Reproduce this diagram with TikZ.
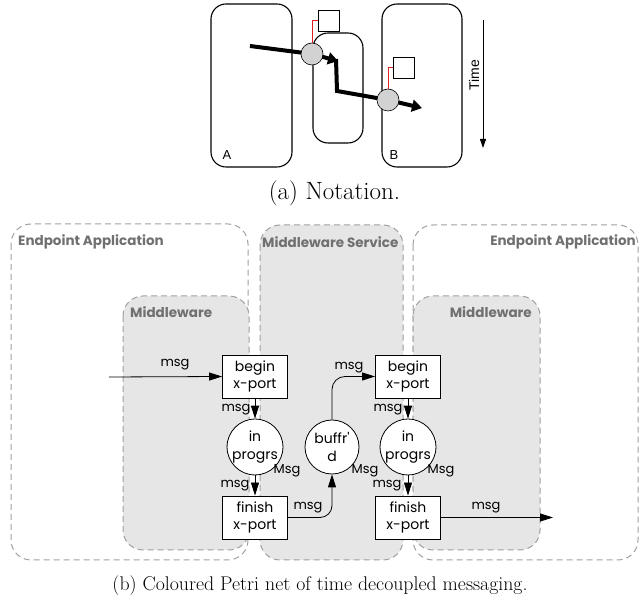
\documentclass[tikz,border=0pt]{standalone}
\usepackage{fontspec}
\newfontfamily\geofont{Poppins}
\newfontfamily\arialfont{Liberation Sans}
\usetikzlibrary{arrows.meta}
\definecolor{regionfill}{HTML}{E6E6E6}
\definecolor{regionline}{HTML}{A0A0A0}
\definecolor{regiontext}{HTML}{707070}
\definecolor{tokengray}{HTML}{D2D2D2}
\definecolor{linkred}{HTML}{E02020}
\tikzset{
  region/.style={draw=regionline, line width=1pt, dash pattern=on 6pt off 4pt, rounded corners=20pt},
  shaded/.style={region, fill=regionfill},
  regionlabel/.style={font=\geofont\bfseries\fontsize{13.5}{15}\selectfont, text=regiontext, inner sep=0pt},
  transition/.style={draw=black, fill=white, line width=0.8pt, minimum width=65pt, minimum height=43pt, inner sep=0pt, align=center, font=\geofont\fontsize{14}{17.5}\selectfont},
  place/.style={draw=black, fill=white, line width=0.8pt, circle, minimum size=54pt, inner sep=0pt, align=center, font=\geofont\fontsize{14}{18}\selectfont},
  arc/.style={draw=black, line width=0.8pt, -{Triangle[length=13pt,width=8pt]}},
  arclabel/.style={font=\geofont\fontsize{13}{15}\selectfont, inner sep=0pt},
  lane/.style={draw=black, line width=1.1pt, rounded corners=15pt},
  token/.style={circle, draw=black, line width=0.6pt, fill=tokengray, minimum size=22pt, inner sep=0pt},
  store/.style={draw=black, line width=0.8pt, minimum width=21pt, minimum height=21pt, inner sep=0pt},
  flow/.style={draw=black, line width=4pt},
  flowarrow/.style={flow, -{Triangle[length=10pt,width=12pt]}},
  redlink/.style={draw=linkred, line width=1pt},
  lanelabel/.style={font=\arialfont\fontsize{13}{15}\selectfont, inner sep=0pt},
  caption/.style={inner sep=0pt}
}
\begin{document}
\begin{tikzpicture}[x=1pt,y=-1pt]
\useasboundingbox (0,0) rectangle (641,601);

% ---------- (a) notation ----------
\draw[lane] (211,4) rectangle (292,167);
\draw[lane] (313,33) rectangle (363,143);
\draw[lane] (382,4) rectangle (462,167);
\node[lanelabel] (labA) at (227,155) {A};
\node[lanelabel] (labB) at (394,155) {B};

\coordinate (f0) at (250,46);
\coordinate (c1pos) at (312,54);
\coordinate (k1) at (338,61);
\coordinate (k2) at (337,91);
\coordinate (c2pos) at (388,100);
\coordinate (f1) at (422,108);

\draw[flowarrow] (f0) -- (c1pos) -- (k1);
\draw[flowarrow] (336,59) -- (k2) -- (c2pos) -- (f1);

\node[store] (s1) at (329,20.5) {};
\node[store] (s2) at (404,67.5) {};
\node[token] (c1) at (c1pos) {};
\node[token] (c2) at (c2pos) {};
\draw[redlink] (c1.north) |- (s1.west);
\draw[redlink] (c2.north) |- (s2.west);

\coordinate (t0) at (483,20);
\coordinate (t1) at (483,148);
\draw[line width=0.9pt, -{Triangle[length=9pt,width=6pt]}] (t0) -- (t1);
\node[lanelabel, rotate=90, font=\arialfont\fontsize{14}{16}\selectfont] (time) at (474,75) {Time};

\node[caption, anchor=base, font=\fontsize{25}{28}\selectfont] (capa) at (334.5,200) {(a) Notation.};

% ---------- (b) coloured Petri net ----------
\path[region] (11,224) rectangle (248,560);
\path[shaded] (123,296) rectangle (249,550);
\path[shaded] (260,225) rectangle (403,560);
\path[region] (413,225) rectangle (638,560);
\path[shaded] (413,296) rectangle (540,550);

\node[regionlabel, anchor=west] (ea1) at (18,242) {Endpoint Application};
\node[regionlabel, anchor=west] (mw1) at (130,312) {Middleware};
\node[regionlabel, anchor=west] (mws) at (262,242) {Middleware Service};
\node[regionlabel, anchor=east] (ea2) at (636,242) {Endpoint Application};
\node[regionlabel, anchor=east] (mw2) at (532,312) {Middleware};

\node[transition] (bt1) at (255,376.5) {begin\\x-port};
\node[transition] (ft1) at (255,517.5) {finish\\x-port};
\node[transition] (bt2) at (408,376.5) {begin\\x-port};
\node[transition] (ft2) at (408,517.5) {finish\\x-port};
\node[place] (p1) at (255,447) {in\\progrs};
\node[place] (buf) at (332,447) {buffr'\\d};
\node[place] (p2) at (408,447) {in\\progrs};

\coordinate (src) at (109,377);
\coordinate (dst) at (553,517.5);

\draw[arc] (src) -- (bt1.west);
\draw[arc] (bt1.south) -- (p1.north);
\draw[arc] (p1.south) -- (ft1.north);
\draw[arc, rounded corners=12pt] (ft1.east) -| (buf.south);
\draw[arc, rounded corners=13pt] (buf.north) |- (bt2.west);
\draw[arc] (bt2.south) -- (p2.north);
\draw[arc] (p2.south) -- (ft2.north);
\draw[arc] (ft2.east) -- (dst);

\node[arclabel] (m1) at (175,365) {msg};
\node[arclabel] (m2) at (236,410) {msg};
\node[arclabel] (m3) at (235,486) {msg};
\node[arclabel] (m4) at (308,508) {msg};
\node[arclabel] (m5) at (349,368) {msg};
\node[arclabel] (m6) at (388,410) {msg};
\node[arclabel] (m7) at (387,486) {msg};
\node[arclabel] (m8) at (486,508) {msg};
\node[arclabel] (M1) at (287,471) {Msg};
\node[arclabel] (M2) at (365,471) {Msg};
\node[arclabel] (M3) at (441,471) {Msg};

\node[caption, anchor=base, font=\fontsize{19.8}{23}\selectfont] (capb) at (320,591) {(b) Coloured Petri net of time decoupled messaging.};
\end{tikzpicture}
\end{document}
